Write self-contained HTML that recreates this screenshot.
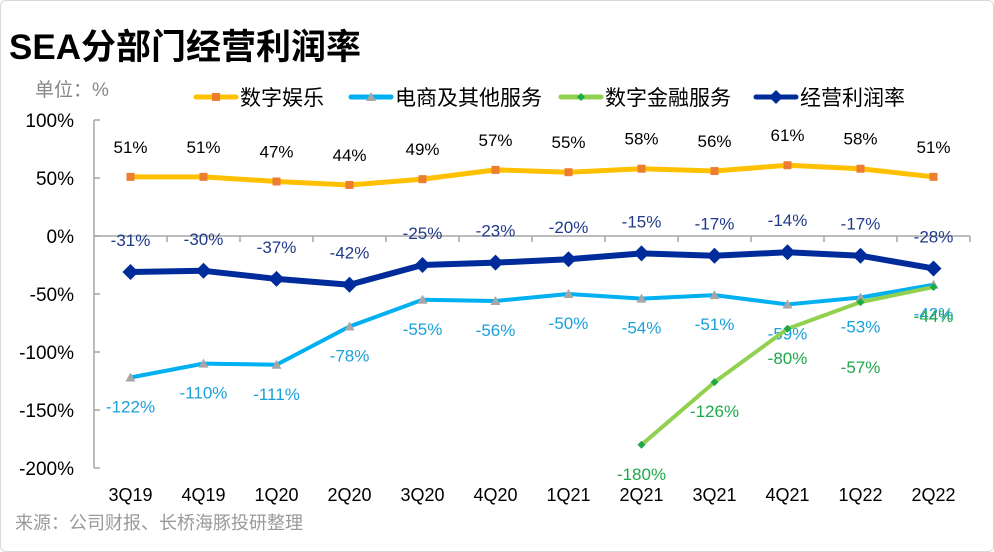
<!DOCTYPE html>
<html><head><meta charset="utf-8"><style>
body{margin:0;background:#fff;}
#wrap{position:relative;width:994px;height:552px;overflow:hidden;background:#fff;box-sizing:border-box;border:1px solid #d9d9d9;border-radius:6px;}
svg text{font-family:"Liberation Sans","Noto Sans CJK SC",sans-serif;}
</style></head><body>
<div id="wrap">
<svg id="chart" width="994" height="552">
<text x="8" y="58" font-size="35" font-weight="bold" fill="#000">SEA分部门经营利润率</text>
<text x="34" y="95" font-size="19" fill="#888">单位：%</text>
<text x="14" y="528" font-size="18" fill="#999">来源：公司财报、长桥海豚投研整理</text>
<g id="legend"></g>
<g id="axes"></g>
<g id="series"></g>
</svg>
</div>
<script>
const categories=["3Q19","4Q19","1Q20","2Q20","3Q20","4Q20","1Q21","2Q21","3Q21","4Q21","1Q22","2Q22"];
const entertainment=[51,51,47,44,49,57,55,58,56,61,58,51];
const ecommerce=[-122,-110,-111,-78,-55,-56,-50,-54,-51,-59,-53,-42];
const fintech=[null,null,null,null,null,null,null,-180,-126,-80,-57,-44];
const operating=[-31,-30,-37,-42,-25,-23,-20,-15,-17,-14,-17,-28];
const yTicks=[100,50,0,-50,-100,-150,-200];
const seriesNames=["数字娱乐","电商及其他服务","数字金融服务","经营利润率"];

const NS="http://www.w3.org/2000/svg";
const X0=93,CW=73,Y100=119,Y0=235;
const yS=v=>Y0-(v)*(Y0-Y100)/100;
const xS=i=>X0+CW*(i+0.5);
function mk(tag,attrs,parent,txt){const e=document.createElementNS(NS,tag);for(const k in attrs)e.setAttribute(k,attrs[k]);if(txt!==undefined)e.textContent=txt;parent.appendChild(e);return e;}
const axes=document.getElementById('axes'),ser=document.getElementById('series'),leg=document.getElementById('legend');

let yl=mk('line',{x1:X0,y1:yS(100),x2:X0,y2:yS(-200),stroke:'#a6a6a6','stroke-width':1.5},axes);


yTicks.forEach(t=>{
 let tk=mk('line',{x1:X0,y1:yS(t),x2:X0+6,y2:yS(t),stroke:'#a6a6a6','stroke-width':1.5},axes);
 
 
 let tl=mk('text',{x:X0-20,y:yS(t)+7,'text-anchor':'end','font-size':19,fill:'#000'},axes,t+'%');
 
 
});
let xl=mk('line',{x1:X0,y1:Y0,x2:X0+CW*categories.length,y2:Y0,stroke:'#a6a6a6','stroke-width':1.5},axes);


categories.forEach((c,i)=>{
 let tk=mk('line',{x1:X0+CW*(i+1),y1:Y0,x2:X0+CW*(i+1),y2:Y0+6,stroke:'#a6a6a6','stroke-width':1.5},axes);
 
 
 let tl=mk('text',{x:xS(i),y:500,'text-anchor':'middle','font-size':18,fill:'#000'},axes,c);
 
 
});

function drawSeries(data,color,width,marker,mcolor,lblColor,lblOff,name,extraOff){
 const g=mk('g',{},ser);
 
 
 const pts=[];data.forEach((v,i)=>{if(v!==null)pts.push([xS(i),yS(v),v,i]);});
 mk('polyline',{points:pts.map(p=>p[0]+','+p[1]).join(' '),fill:'none',stroke:color,'stroke-width':width,'stroke-linejoin':'round'},g);
 pts.forEach(p=>{
  let m;
  if(marker==='square')m=mk('rect',{x:p[0]-4,y:p[1]-4,width:8,height:8,fill:mcolor},g);
  else if(marker==='tri')m=mk('polygon',{points:`${p[0]},${p[1]-5} ${p[0]-5},${p[1]+4} ${p[0]+5},${p[1]+4}`,fill:mcolor},g);
  else if(marker==='diamond')m=mk('polygon',{points:`${p[0]},${p[1]-8} ${p[0]+8},${p[1]} ${p[0]},${p[1]+8} ${p[0]-8},${p[1]}`,fill:mcolor},g);
  else m=mk('polygon',{points:`${p[0]},${p[1]-4} ${p[0]+4},${p[1]} ${p[0]},${p[1]+4} ${p[0]-4},${p[1]}`,fill:mcolor},g);
  
  
  const eo=(extraOff&&extraOff[p[3]])||0;
  let t=mk('text',{x:p[0],y:p[1]+lblOff+eo,'text-anchor':'middle','font-size':17,fill:lblColor},g,p[2]+'%');
  
  
 });
}
drawSeries(ecommerce,'#00b0f0',4,'tri','#a6a6a6','#1aa0d8',35,'ecommerce-series');
drawSeries(fintech,'#92d050',4,'small','#1ea84a','#1ea84a',35,'fintech-series',{10:36});
drawSeries(entertainment,'#ffc000',5,'square','#ed7d31','#000',-24,'entertainment-series');
drawSeries(operating,'#002b9a',6,'diamond','#002b9a','#1f3a8a',-26,'operating-series');

const legX=[195,350,560,755],legC=['#ffc000','#00b0f0','#92d050','#002b9a'],legM=['square','tri','small','diamond'],legMC=['#ed7d31','#a6a6a6','#1ea84a','#002b9a'];
seriesNames.forEach((n,i)=>{
 const g=mk('g',{},leg);
 
 
 const x=legX[i],y=96;
 mk('line',{x1:x,y1:y,x2:x+40,y2:y,stroke:legC[i],'stroke-width':5,'stroke-linecap':'round'},g);
 const cx=x+20;
 if(legM[i]==='square')mk('rect',{x:cx-4,y:y-4,width:8,height:8,fill:legMC[i]},g);
 else if(legM[i]==='tri')mk('polygon',{points:`${cx},${y-5} ${cx-5},${y+4} ${cx+5},${y+4}`,fill:legMC[i]},g);
 else if(legM[i]==='diamond')mk('polygon',{points:`${cx},${y-7} ${cx+7},${y} ${cx},${y+7} ${cx-7},${y}`,fill:legMC[i]},g);
 else mk('polygon',{points:`${cx},${y-4} ${cx+4},${y} ${cx},${y+4} ${cx-4},${y}`,fill:legMC[i]},g);
 mk('text',{x:x+44,y:y+8,'font-size':21,fill:'#000'},g,n);
});
</script>
</body></html>
